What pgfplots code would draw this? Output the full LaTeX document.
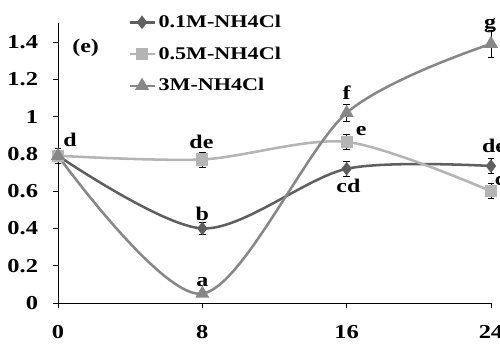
\documentclass[border=0pt]{standalone}
\usepackage{fontspec}
\setmainfont[FakeStretch=1.24]{Liberation Serif}
\usepackage{pgfplots}
\pgfplotsset{compat=1.18}
\definecolor{gdark}{HTML}{5F5F5F}
\definecolor{glight}{HTML}{B4B4B4}
\definecolor{gmid}{HTML}{878787}

\begin{document}
\begin{tikzpicture}[font=\bfseries]
\begin{axis}[
  x=13.53pt, y=139.8pt,
  xmin=0, xmax=24, ymin=0, ymax=1.5,
  axis lines*=left,
  axis line style={black, line width=0.7pt},
  clip=false,
  tick align=outside,
  major tick length=3.75pt,
  tick style={black, line width=0.7pt},
  xtick={0,8,16,24}, xticklabels={0,8,16,24},
  ytick={0,0.2,0.4,0.6,0.8,1,1.2,1.4},
  yticklabels={0,0.2,0.4,0.6,0.8,1,1.2,1.4},
  tick label style={font=\fontsize{14.8}{16}\selectfont\bfseries, inner sep=0pt},
  xticklabel style={anchor=north, yshift=-13pt},
  yticklabel style={anchor=east, xshift=-11pt},
  every axis plot/.append style={smooth, line width=1.9pt},
  error bars/y dir=both, error bars/y explicit,
  error bars/error bar style={black, line width=0.6pt, solid},
  error bars/error mark options={rotate=90, mark size=2.4pt, black, line width=0.6pt},
  legend style={at={(axis cs:3.88,1.56)}, anchor=north west, draw=none, fill=none,
    font=\fontsize{13.4}{15}\selectfont\bfseries, inner sep=0pt, row sep=9pt},
  legend cell align=left,
  legend image code/.code={\draw[mark repeat=2,mark phase=2]
    plot coordinates {(0cm,0cm)(0.33cm,0cm)(0.66cm,0cm)};},
]
% 0.1M-NH4Cl
\addplot[gdark, mark=diamond*, mark size=3.6pt, mark options={solid, fill=gdark}]
  coordinates {(0,0.79) +- (0,0.03) (8,0.40) +- (0,0.03) (16,0.72) +- (0,0.04) (24,0.735) +- (0,0.04)};
\addlegendentry{0.1M-NH4Cl}
% 0.5M-NH4Cl
\addplot[glight, mark=square*, mark size=3.6pt, mark options={solid, fill=glight}]
  coordinates {(0,0.79) +- (0,0.03) (8,0.77) +- (0,0.04) (16,0.864) +- (0,0.04) (24,0.60) +- (0,0.04)};
\addlegendentry{0.5M-NH4Cl}
% 3M-NH4Cl
\addplot[gmid, mark=triangle*, mark size=4.2pt, mark options={solid, fill=gmid}]
  coordinates {(0,0.79) +- (0,0.04) (8,0.05) +- (0,0.01) (16,1.02) +- (0,0.045) (24,1.39) +- (0,0.07)};
\addlegendentry{3M-NH4Cl}

\tikzset{lbl/.style={font=\fontsize{14.5}{16}\selectfont\bfseries, inner sep=0pt}}
\node[lbl, anchor=base west] at (axis cs:0.78,1.345) {(e)};
\node[lbl, anchor=base west] at (axis cs:0.28,0.84) {d};
\node[lbl, anchor=base] at (axis cs:7.95,0.83) {de};
\node[lbl, anchor=base] at (axis cs:8,0.445) {b};
\node[lbl, anchor=base] at (axis cs:8,0.086) {a};
\node[lbl, anchor=base] at (axis cs:16,1.094) {f};
\node[lbl, anchor=base west] at (axis cs:16.5,0.896) {e};
\node[lbl, anchor=base] at (axis cs:16.1,0.595) {cd};
\node[lbl, anchor=base] at (axis cs:23.95,1.475) {g};
\node[lbl, anchor=base west] at (axis cs:23.49,0.81) {de};
\node[lbl, anchor=base west] at (axis cs:24.2,0.633) {c};

\coordinate (bl) at (axis cs:-3.215,-0.2146);
\coordinate (tr) at (axis cs:24.5,1.6255);
\end{axis}
\pgfresetboundingbox
\useasboundingbox (bl) rectangle (tr);
\end{tikzpicture}
\end{document}
